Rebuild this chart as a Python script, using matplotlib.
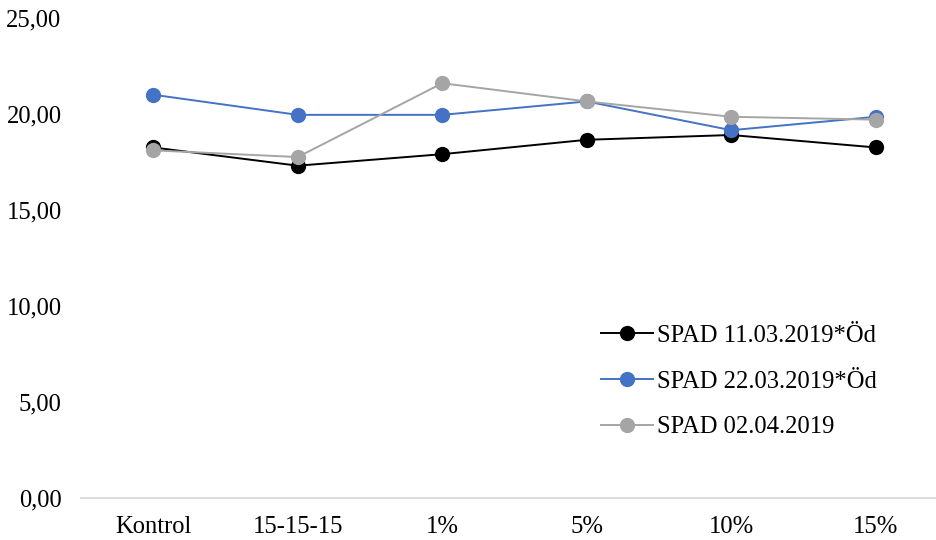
import numpy as np
import matplotlib
matplotlib.use("Agg")
import matplotlib.pyplot as plt
from matplotlib.ticker import FuncFormatter

# SPAD readings per treatment
categories = ["Kontrol", "15-15-15", "1%", "5%", "10%", "15%"]
spad_1103 = [18.25, 17.30, 17.90, 18.65, 18.90, 18.25]
spad_2203 = [21.00, 19.95, 19.95, 20.65, 19.15, 19.85]
spad_0204 = [18.10, 17.75, 21.60, 20.65, 19.85, 19.70]

series = [
    ("SPAD 11.03.2019*Öd", spad_1103, "#000000"),
    ("SPAD 22.03.2019*Öd", spad_2203, "#4472C4"),
    ("SPAD 02.04.2019", spad_0204, "#A5A5A5"),
]

plt.rcParams["font.family"] = ["Liberation Serif", "DejaVu Serif"]
plt.rcParams["font.size"] = 17.7

fig = plt.figure(figsize=(9.36, 5.4), dpi=100)
ax = fig.add_axes([81 / 936, 42.5 / 540, 867 / 936, 479.5 / 540])

x = np.arange(len(categories))
for label, vals, color in series:
    ax.plot(x, vals, color=color, lw=1.4, marker="o", markersize=11,
            markeredgewidth=0, label=label)

ax.set_xlim(-0.5, len(categories) - 0.5)
ax.set_ylim(0, 25)
ax.set_yticks(np.arange(0, 26, 5))
ax.yaxis.set_major_formatter(FuncFormatter(lambda v, _: f"{v:.2f}".replace(".", ",")))
ax.set_xticks(x)
ax.set_xticklabels(categories)

for side in ["top", "right", "left"]:
    ax.spines[side].set_visible(False)
ax.spines["bottom"].set_color("#D9D9D9")
ax.spines["bottom"].set_linewidth(1.3)
ax.tick_params(axis="both", length=0, colors="#000000")
ax.tick_params(axis="y", pad=14)
ax.tick_params(axis="x", pad=13)

ax.legend(loc="center left", bbox_to_anchor=(589 / 936, (540 - 381.5) / 540),
          bbox_transform=fig.transFigure, frameon=False, borderpad=0,
          handlelength=2.1, handletextpad=0.15, labelspacing=0.95)

fig.savefig("out.png", dpi=100)
